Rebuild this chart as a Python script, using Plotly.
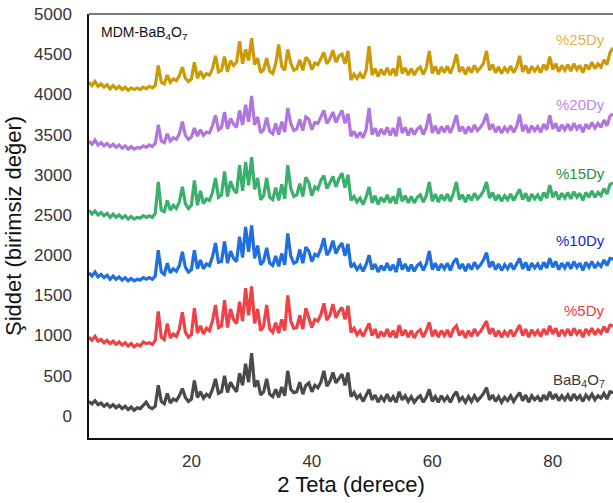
import plotly.graph_objects as go

# 2-theta grid: 3.0 .. 90.0 in 0.5 degree steps (175 points)
two_theta = [3.0 + 0.5 * i for i in range(175)]

bab4o7 = [
    180, 150, 190, 140, 160, 120, 150, 110, 140, 100,
    130, 90, 120, 80, 110, 70, 100, 90, 130, 170,
    110, 90, 120, 380, 180, 150, 280, 160, 210, 190,
    250, 340, 230, 180, 210, 440, 230, 300, 220, 270,
    240, 330, 460, 280, 300, 500, 290, 420, 350, 300,
    530, 380, 650, 420, 780, 360, 440, 260, 300, 460,
    270, 240, 330, 230, 360, 250, 560, 330, 290, 300,
    420, 270, 380, 410, 300, 380, 350, 420, 560, 370,
    430, 540, 410, 460, 520, 380, 540, 240, 290, 220,
    260, 180, 250, 330, 200, 260, 170, 240, 190, 270,
    180, 240, 170, 300, 200, 250, 180, 240, 170, 220,
    250, 170, 230, 330, 180, 240, 170, 250, 190, 240,
    170, 250, 300, 190, 230, 170, 240, 180, 250, 190,
    230, 280, 350, 200, 260, 180, 240, 170, 230, 190,
    250, 180, 240, 290, 190, 260, 170, 250, 200, 240,
    180, 260, 200, 300, 210, 270, 190, 250, 200, 260,
    190, 270, 210, 250, 180, 260, 210, 270, 200, 250,
    220, 280, 210, 300, 290,
]

dy5 = [
    980, 940, 990, 930, 950, 910, 940, 900, 930, 890,
    920, 880, 910, 870, 900, 860, 890, 870, 920, 900,
    910, 890, 940, 1300, 980, 950, 1150, 970, 1020, 990,
    1080, 1290, 1040, 980, 1010, 1340, 1030, 1120, 1020, 1090,
    1060, 1180, 1380, 1100, 1120, 1440, 1100, 1330, 1200, 1150,
    1420, 1180, 1590, 1250, 1610, 1150, 1330, 1060, 1120, 1380,
    1080, 1040, 1160, 1030, 1200, 1060, 1500, 1180, 1090, 1100,
    1250, 1080, 1340, 1230, 1100, 1200, 1180, 1260, 1400, 1190,
    1250, 1390, 1220, 1300, 1350, 1200, 1370, 1040, 1090, 1010,
    1060, 990, 1070, 1150, 1000, 1080, 970, 1050, 990, 1080,
    980, 1060, 970, 1130, 1000, 1070, 980, 1060, 970, 1040,
    1070, 980, 1060, 1160, 990, 1070, 980, 1060, 1000, 1070,
    980, 1080, 1120, 1000, 1060, 970, 1060, 990, 1080, 1010,
    1050, 1110, 1180, 1020, 1090, 990, 1060, 980, 1050, 1000,
    1070, 990, 1060, 1130, 1000, 1080, 980, 1070, 1010, 1060,
    990, 1080, 1010, 1120, 1020, 1090, 990, 1070, 1010, 1080,
    1000, 1090, 1020, 1070, 980, 1080, 1020, 1090, 1010, 1070,
    1030, 1110, 1040, 1130, 1120,
]

dy10 = [
    1780, 1740, 1790, 1730, 1760, 1720, 1750, 1700, 1740, 1700,
    1730, 1690, 1720, 1680, 1710, 1680, 1700, 1690, 1720, 1700,
    1720, 1700, 1740, 2060, 1790, 1760, 1900, 1780, 1830, 1800,
    1870, 2040, 1850, 1790, 1820, 2060, 1830, 1940, 1830, 1890,
    1870, 1980, 2150, 1910, 1920, 2170, 1900, 2050, 1960, 1920,
    2230, 1970, 2350, 2040, 2370, 1960, 2120, 1880, 1930, 2090,
    1900, 1870, 1990, 1860, 2020, 1880, 2270, 1990, 1900, 1920,
    2070, 1900, 2100, 2050, 1920, 2010, 1990, 2080, 2210, 2000,
    2060, 2180, 2020, 2100, 2150, 1990, 2140, 1850, 1890, 1820,
    1870, 1800, 1880, 2000, 1820, 1890, 1790, 1870, 1810, 1900,
    1810, 1880, 1790, 1960, 1820, 1890, 1800, 1880, 1800, 1870,
    1900, 1810, 1890, 2050, 1820, 1900, 1810, 1890, 1830, 1900,
    1810, 1910, 1960, 1830, 1890, 1800, 1890, 1820, 1910, 1840,
    1880, 1940, 2030, 1850, 1920, 1820, 1890, 1810, 1880, 1830,
    1900, 1820, 1890, 1960, 1830, 1910, 1810, 1900, 1840, 1890,
    1820, 1910, 1840, 1960, 1850, 1920, 1820, 1900, 1840, 1910,
    1830, 1920, 1850, 1900, 1810, 1910, 1850, 1920, 1840, 1900,
    1860, 1940, 1870, 1960, 1950,
]

dy15 = [
    2560, 2510, 2550, 2500, 2530, 2490, 2520, 2470, 2510, 2470,
    2500, 2460, 2490, 2450, 2480, 2450, 2470, 2460, 2490, 2470,
    2490, 2470, 2520, 2910, 2560, 2540, 2680, 2560, 2620, 2580,
    2660, 2850, 2640, 2580, 2620, 2930, 2620, 2800, 2640, 2700,
    2680, 2780, 2960, 2720, 2750, 3040, 2730, 2920, 2820, 2770,
    3120, 2800, 3160, 2870, 3220, 2820, 2960, 2690, 2740, 2960,
    2720, 2690, 2840, 2680, 2880, 2700, 3120, 2830, 2730, 2750,
    2890, 2730, 2970, 2900, 2740, 2850, 2820, 2930, 2990, 2830,
    2900, 2980, 2850, 2950, 3020, 2840, 3000, 2680, 2730, 2660,
    2710, 2630, 2720, 2850, 2650, 2740, 2630, 2720, 2660, 2750,
    2650, 2730, 2640, 2830, 2670, 2740, 2650, 2730, 2650, 2720,
    2750, 2660, 2740, 2910, 2670, 2760, 2660, 2750, 2680, 2760,
    2670, 2770, 2910, 2690, 2750, 2660, 2750, 2680, 2770, 2700,
    2740, 2800, 2910, 2710, 2780, 2680, 2750, 2670, 2740, 2690,
    2760, 2680, 2750, 2820, 2690, 2770, 2670, 2760, 2700, 2750,
    2680, 2780, 2710, 2870, 2720, 2790, 2690, 2770, 2710, 2780,
    2700, 2790, 2720, 2770, 2680, 2780, 2720, 2800, 2720, 2780,
    2740, 2830, 2760, 2880, 2900,
]

dy20 = [
    3420, 3380, 3430, 3370, 3400, 3360, 3390, 3350, 3380, 3340,
    3370, 3330, 3360, 3320, 3350, 3320, 3340, 3330, 3360, 3340,
    3370, 3350, 3390, 3620, 3420, 3400, 3510, 3420, 3460, 3440,
    3510, 3660, 3490, 3440, 3470, 3580, 3480, 3560, 3490, 3530,
    3520, 3610, 3740, 3560, 3590, 3780, 3570, 3700, 3630, 3590,
    3800, 3620, 3870, 3660, 3980, 3620, 3720, 3520, 3560, 3710,
    3540, 3510, 3640, 3500, 3660, 3530, 3830, 3640, 3550, 3570,
    3690, 3550, 3720, 3690, 3560, 3650, 3640, 3710, 3800, 3640,
    3700, 3780, 3650, 3730, 3800, 3640, 3760, 3480, 3540, 3460,
    3530, 3460, 3560, 3830, 3500, 3580, 3480, 3570, 3500, 3590,
    3490, 3580, 3480, 3720, 3520, 3590, 3490, 3580, 3500, 3570,
    3600, 3500, 3590, 3760, 3520, 3610, 3510, 3600, 3530, 3610,
    3520, 3620, 3740, 3540, 3600, 3510, 3600, 3530, 3620, 3550,
    3590, 3650, 3760, 3560, 3630, 3530, 3600, 3520, 3590, 3540,
    3610, 3530, 3600, 3750, 3540, 3620, 3520, 3610, 3550, 3600,
    3530, 3630, 3560, 3740, 3570, 3640, 3540, 3620, 3560, 3630,
    3550, 3640, 3570, 3620, 3530, 3630, 3570, 3650, 3580, 3640,
    3590, 3680, 3610, 3730, 3760,
]

dy25 = [
    4150, 4110, 4160, 4100, 4130, 4090, 4120, 4070, 4110, 4070,
    4100, 4060, 4090, 4050, 4080, 4060, 4080, 4060, 4090, 4070,
    4100, 4080, 4110, 4360, 4150, 4130, 4240, 4150, 4190, 4170,
    4230, 4340, 4200, 4160, 4190, 4400, 4200, 4290, 4210, 4260,
    4240, 4320, 4480, 4280, 4300, 4470, 4280, 4420, 4360, 4400,
    4660, 4380, 4560, 4420, 4700, 4370, 4450, 4270, 4310, 4450,
    4290, 4260, 4380, 4620, 4350, 4300, 4560, 4390, 4300, 4320,
    4430, 4300, 4460, 4420, 4310, 4390, 4370, 4440, 4520, 4380,
    4440, 4550, 4400, 4480, 4500, 4380, 4540, 4180, 4250, 4200,
    4260, 4200, 4290, 4600, 4240, 4320, 4220, 4310, 4240, 4330,
    4240, 4320, 4230, 4480, 4260, 4330, 4240, 4320, 4240, 4310,
    4340, 4250, 4330, 4540, 4260, 4350, 4250, 4340, 4270, 4350,
    4260, 4360, 4500, 4280, 4340, 4250, 4340, 4270, 4360, 4290,
    4330, 4390, 4540, 4300, 4370, 4270, 4340, 4260, 4330, 4280,
    4350, 4270, 4340, 4480, 4280, 4360, 4260, 4350, 4290, 4340,
    4270, 4370, 4300, 4470, 4310, 4380, 4280, 4360, 4300, 4370,
    4290, 4380, 4310, 4360, 4270, 4370, 4310, 4400, 4320, 4380,
    4340, 4430, 4370, 4520, 4580,
]

series_names = ["BaB<sub>4</sub>O<sub>7</sub>", "%5Dy", "%10Dy", "%15Dy", "%20Dy", "%25Dy"]
series_values = [bab4o7, dy5, dy10, dy15, dy20, dy25]
line_colors = ["#4a4a4a", "#ef4146", "#1f6fdf", "#3bb06c", "#b176de", "#cc9a06"]
label_colors = ["#3a3a3a", "#ee3b3b", "#1a22e0", "#2a8f3a", "#c286ea", "#e6b24a"]
label_y = [435, 1306, 2177, 3010, 3869, 4677]

FONT = "Liberation Sans, Arial, sans-serif"

fig = go.Figure()
for name, vals, col in zip(series_names, series_values, line_colors):
    fig.add_trace(go.Scatter(x=two_theta, y=vals, mode="lines", name=name,
                             line=dict(color=col, width=3.2), showlegend=False))

for name, ly, col in zip(series_names, label_y, label_colors):
    fig.add_annotation(x=0.988, xref="paper", y=ly, yref="y", text=name,
                       showarrow=False, xanchor="right", yanchor="middle",
                       font=dict(size=15, color=col, family=FONT))

fig.add_annotation(x=0.02, xref="paper", y=0.955, yref="paper",
                   text="MDM-BaB<sub>4</sub>O<sub>7</sub>", showarrow=False,
                   xanchor="left", yanchor="middle",
                   font=dict(size=14, color="#111111", family=FONT))

# top frame line
fig.add_shape(type="line", xref="paper", yref="paper", x0=0, x1=1, y0=1, y1=1,
              line=dict(color="#7a7a7a", width=2))

fig.update_layout(
    width=613, height=503,
    margin=dict(l=89, r=0, t=14, b=65),
    plot_bgcolor="white", paper_bgcolor="white",
    font=dict(family=FONT, color="#333333"),
    xaxis=dict(range=[3, 90], tickvals=[20, 40, 60, 80], showgrid=False, zeroline=False,
               showline=True, linecolor="#111111", linewidth=1.5, ticks="",
               ticklabelstandoff=7,
               tickfont=dict(size=17, color="#333333"),
               title=dict(text="2 Teta (derece)", font=dict(size=22, color="#111111"), standoff=6)),
    yaxis=dict(range=[-275, 5000], tickvals=list(range(0, 5001, 500)), showgrid=False,
               zeroline=False, showline=True, linecolor="#111111", linewidth=1.5, ticks="",
               ticklabelstandoff=12,
               tickfont=dict(size=17, color="#333333"),
               title=dict(text="Şiddet (birimsiz değer)", font=dict(size=22, color="#111111"), standoff=6)),
)

fig.write_html("out.html")
